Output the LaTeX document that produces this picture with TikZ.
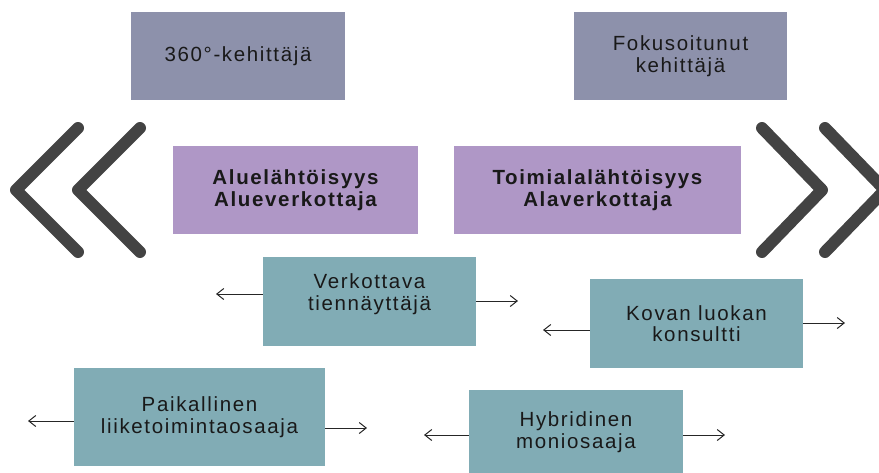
\documentclass[tikz,border=0pt]{standalone}
\usepackage{fontspec}
\setmainfont{Liberation Sans}[LetterSpace=8]
\usetikzlibrary{positioning,arrows.meta}

\definecolor{greyblue}{HTML}{8D91AB}
\definecolor{lilac}{HTML}{AF97C6}
\definecolor{tealbox}{HTML}{81ACB5}
\definecolor{chevron}{HTML}{434343}

\tikzset{
  box/.style={rectangle, inner sep=0pt, align=center, text=black!90,
    font=\fontsize{20.5}{21.5}\selectfont},
  arr/.style={-{Straight Barb[length=7pt,width=11pt]}, line width=1pt, black!85},
  chev/.style={chevron, line width=12pt, line cap=round, line join=round}
}

\begin{document}
\begin{tikzpicture}[x=1pt,y=-1pt]
        \clip (0,0) rectangle (879,472);
        % Chevrons
        \draw[chev] (78,128) -- (16,190) -- (78,252);
        \draw[chev] (140,128) -- (78,190) -- (140,252);
        \draw[chev] (762,128) -- (822,190) -- (762,252);
        \draw[chev] (825,128) -- (885,190) -- (825,252);
        % Nodes
        \node (dev360) at (238,56) [box, fill=greyblue, minimum width=214, minimum height=88] {360°-kehittäjä};
        \node (focus) at (680.5,56) [box, fill=greyblue, minimum width=213, minimum height=88] {Fokusoitunut\\kehittäjä};
        \node (area) at (295.5,190) [box, fill=lilac, minimum width=245, minimum height=88, font=\fontsize{20.5}{21.5}\selectfont\bfseries] {Aluelähtöisyys\\Alueverkottaja};
        \node (sector) at (597.5,190) [box, fill=lilac, minimum width=287, minimum height=88, font=\fontsize{20.5}{21.5}\selectfont\bfseries] {Toimialalähtöisyys\\Alaverkottaja};
        \node (guide) at (369.5,301.5) [box, fill=tealbox, minimum width=213, minimum height=89, text depth=19pt] {Verkottava\\tiennäyttäjä};
        \node (consult) at (696.5,323.5) [box, fill=tealbox, minimum width=213, minimum height=89] {Kovan luokan\\konsultti};
        \node (local) at (199.5,417) [box, fill=tealbox, minimum width=251, minimum height=98] {Paikallinen\\liiketoimintaosaaja};
        \node (hybrid) at (576,432) [box, fill=tealbox, minimum width=214, minimum height=84] {Hybridinen\\moniosaaja};
        % Free arrow ends
        \coordinate (guideL) at (216,294);
        \coordinate (guideR) at (518,301);
        \coordinate (consultL) at (543,330);
        \coordinate (consultR) at (845,323);
        \coordinate (localL) at (28,421);
        \coordinate (localR) at (367,428);
        \coordinate (hybridL) at (424,435);
        \coordinate (hybridR) at (725,435);
        % Edges
        \draw[arr] (guide.west |- guideL) -- (guideL);
        \draw[arr] (guide.east |- guideR) -- (guideR);
        \draw[arr] (consult.west |- consultL) -- (consultL);
        \draw[arr] (consult.east |- consultR) -- (consultR);
        \draw[arr] (local.west |- localL) -- (localL);
        \draw[arr] (local.east |- localR) -- (localR);
        \draw[arr] (hybrid.west |- hybridL) -- (hybridL);
        \draw[arr] (hybrid.east |- hybridR) -- (hybridR);
    \end{tikzpicture}
\end{document}
